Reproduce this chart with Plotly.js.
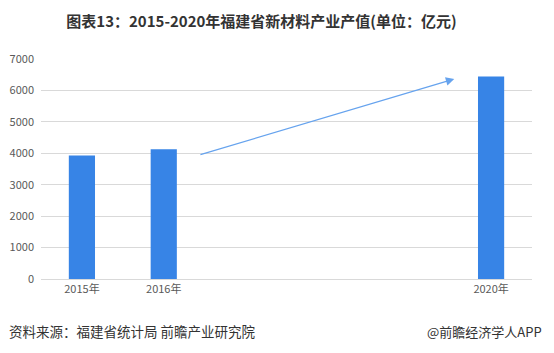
<!DOCTYPE html>
<html>
<head>
<meta charset="utf-8">
<script src="https://cdn.plot.ly/plotly-3.0.1.min.js"></script>
<style>
html,body{margin:0;padding:0;background:#fff;}
#chart{width:554px;height:353px;}
</style>
</head>
<body>
<div id="chart"></div>
<script>
// Data
const years = [2015, 2016, 2020];
const yearLabels = ['2015年', '2016年', '2020年'];
const values = [3930, 4130, 6440];
const yTicks = [0, 1000, 2000, 3000, 4000, 5000, 6000, 7000];
const arrowFrom = [2016.43, 3945];
const arrowTo = [2019.55, 6365];

const titleText = '图表13：2015-2020年福建省新材料产业产值(单位：亿元)';
const sourceText = '资料来源：福建省统计局 前瞻产业研究院';
const brandText = '@前瞻经济学人APP';

const font = '"Noto Sans CJK SC", "Noto Sans", sans-serif';

const trace = {
  type: 'bar',
  x: years,
  y: values,
  width: 0.32,
  marker: {color: '#3784e6'},
  hoverinfo: 'none'
};

const layout = {
  width: 554,
  height: 353,
  margin: {l: 41, r: 22, t: 59, b: 74},
  paper_bgcolor: '#ffffff',
  plot_bgcolor: '#ffffff',
  showlegend: false,
  font: {family: font, color: '#595959', size: 11},
  title: {
    text: '<b>' + titleText + '</b>',
    font: {family: font, size: 15, color: '#333333'},
    x: 0.472, xanchor: 'center', y: 0.937, yanchor: 'middle'
  },
  xaxis: {
    range: [2014.5, 2020.5],
    tickvals: years,
    ticktext: yearLabels,
    showgrid: false,
    zeroline: false,
    showline: true,
    linecolor: '#d9d9d9',
    linewidth: 1,
    ticks: '',
    tickfont: {size: 11, color: '#595959'},
    fixedrange: true
  },
  yaxis: {
    range: [0, 7000],
    tickvals: yTicks,
    showgrid: true,
    gridcolor: '#d9d9d9',
    gridwidth: 1,
    zeroline: false,
    showline: false,
    ticks: '',
    ticklabelstandoff: 6,
    tickfont: {size: 11, color: '#595959'},
    fixedrange: true
  },
  annotations: [
    {
      x: arrowTo[0], y: arrowTo[1], xref: 'x', yref: 'y',
      ax: arrowFrom[0], ay: arrowFrom[1], axref: 'x', ayref: 'y',
      showarrow: true, arrowhead: 2, arrowsize: 1.4, arrowwidth: 1.2,
      arrowcolor: '#66a3ee', text: ''
    },
    {
      text: sourceText, xref: 'paper', yref: 'paper',
      x: -34/491, xanchor: 'left', y: -(331-279)/220, yanchor: 'middle',
      showarrow: false, font: {family: font, size: 13.5, color: '#333333'}
    },
    {
      text: brandText, xref: 'paper', yref: 'paper',
      x: (544-41)/491, xanchor: 'right', y: -(331-279)/220, yanchor: 'middle',
      showarrow: false, font: {family: font, size: 13, color: '#333333'}
    }
  ]
};

Plotly.newPlot('chart', [trace], layout, {displayModeBar: false, staticPlot: true});
</script>
</body>
</html>
